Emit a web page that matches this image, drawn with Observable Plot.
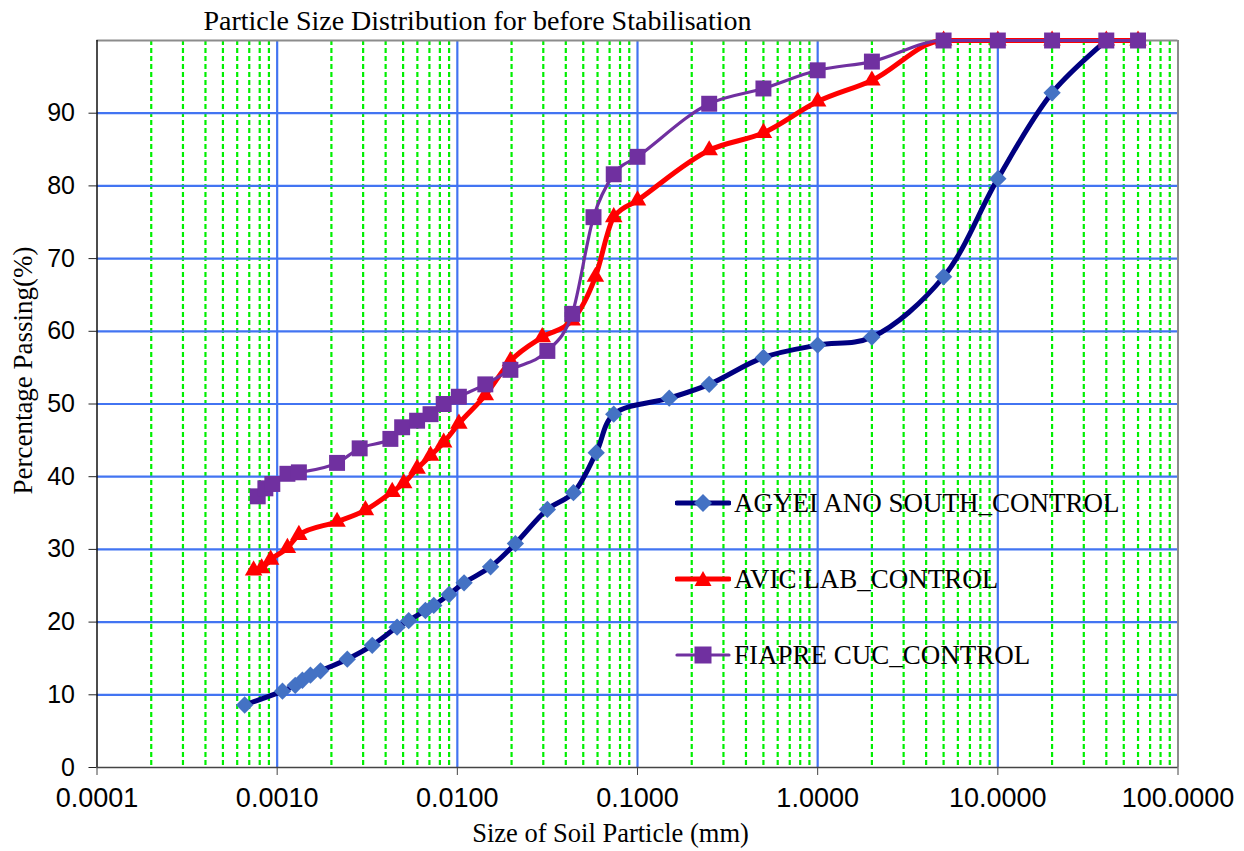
<!DOCTYPE html>
<html>
<head>
<meta charset="utf-8">
<script src="https://cdn.jsdelivr.net/npm/d3@7"></script>
<script src="https://cdn.jsdelivr.net/npm/@observablehq/plot@0.6"></script>
<style>
  html, body { margin: 0; padding: 0; background: #fff; }
  #wrap { position: relative; width: 1244px; height: 851px; }
  #legend { position: absolute; left: 675px; top: 0; font-family: "Liberation Serif", "Times New Roman", serif; font-size: 27px; color: #000; }
  .item { position: absolute; left: 0; display: flex; align-items: center; white-space: nowrap; }
  .item svg { display: block; }
  .item span { margin-left: 3px; }
</style>
</head>
<body>
<div id="wrap"></div>
<script>
// ---- data ----
const seriesNames = ["AGYEI ANO SOUTH_CONTROL", "AVIC LAB_CONTROL", "FIAPRE CUC_CONTROL"];

const agyeiSize = [0.00066, 0.00107, 0.00126, 0.00138, 0.00153, 0.00174, 0.00245, 0.00337, 0.00463, 0.00537, 0.00665, 0.0074, 0.009, 0.0109, 0.0153, 0.021, 0.0316, 0.0441, 0.059, 0.0738, 0.15, 0.25, 0.5, 1, 2, 5, 10, 20, 40];
const agyeiPass = [8.6, 10.5, 11.3, 12.0, 12.7, 13.3, 14.9, 16.8, 19.3, 20.2, 21.6, 22.3, 23.8, 25.4, 27.6, 30.8, 35.5, 37.8, 43.3, 48.6, 50.8, 52.7, 56.4, 58.1, 59.2, 67.5, 81.0, 92.8, 100];

const avicSize = [0.00074, 0.00082, 0.00092, 0.00114, 0.00132, 0.00215, 0.00309, 0.00435, 0.00504, 0.00598, 0.0071, 0.0084, 0.0102, 0.0143, 0.0197, 0.0296, 0.0434, 0.0584, 0.0738, 0.1, 0.25, 0.5, 1, 2, 5, 10, 20, 40, 60];
const avicPass = [27.1, 27.4, 28.6, 30.2, 32.0, 33.8, 35.4, 37.9, 39.1, 41.1, 42.9, 44.7, 47.3, 51.2, 55.9, 59.2, 61.5, 67.5, 75.7, 78.0, 84.9, 87.3, 91.6, 94.5, 100, 100, 100, 100, 100];

const fiapreSize = [0.00078, 0.00086, 0.00094, 0.00114, 0.00132, 0.00215, 0.00287, 0.00425, 0.00494, 0.00598, 0.0071, 0.0084, 0.0102, 0.0143, 0.0197, 0.0316, 0.0434, 0.057, 0.0738, 0.1, 0.25, 0.5, 1, 2, 5, 10, 20, 40, 60];
const fiaprePass = [37.3, 38.4, 39.0, 40.4, 40.6, 41.9, 43.9, 45.2, 46.8, 47.7, 48.6, 50.0, 51.0, 52.7, 54.7, 57.3, 62.4, 75.7, 81.6, 84.0, 91.3, 93.4, 95.9, 97.1, 100, 100, 100, 100, 100];

const xDomain = [0.0001, 100];
const xTicks = [0.0001, 0.001, 0.01, 0.1, 1, 10, 100];
const yTicks = [0, 10, 20, 30, 40, 50, 60, 70, 80, 90];
const yDomain = [0, 100];

const titleText = "Particle Size Distribution for before Stabilisation";
const xLabel = "Size of Soil Particle (mm)";
const yLabel = "Percentage Passing(%)";

// ---- build tables ----
const toRows = (xs, ys) => xs.map((x, i) => ({x, y: ys[i]}));
const agyei = toRows(agyeiSize, agyeiPass);
const avic = toRows(avicSize, avicPass);
const fiapre = toRows(fiapreSize, fiaprePass);

const allLogTicks = d3.scaleLog().domain(xDomain).ticks();
const minorTicks = allLogTicks.filter(v => !xTicks.some(t => Math.abs(t - v) / t < 1e-9));
const majorInner = xTicks.slice(1, -1);
const yGrid = yTicks.slice(1);

const gridBlue = "#4274F2";
const serif = "Liberation Serif, Times New Roman, serif";

const chart = Plot.plot({
  width: 1244,
  height: 851,
  marginLeft: 96.5,
  marginRight: 66.5,
  marginTop: 40,
  marginBottom: 84,
  x: {type: "log", domain: xDomain},
  y: {domain: yDomain},
  style: {fontFamily: "Liberation Sans, Arial, sans-serif", background: "#fff", color: "#000", overflow: "visible"},
  marks: [
    Plot.ruleX(minorTicks, {stroke: "#00F000", strokeWidth: 2.2, strokeDasharray: "5,3"}),
    Plot.ruleX(majorInner, {stroke: gridBlue, strokeWidth: 2.2}),
    Plot.ruleY(yGrid, {stroke: gridBlue, strokeWidth: 2.2}),
    Plot.ruleY([yDomain[1]], {stroke: "#8c8c8c", strokeWidth: 2}),
    Plot.ruleX([xDomain[1]], {stroke: "#8c8c8c", strokeWidth: 2}),
    Plot.axisY(yTicks, {tickSize: 8, tickPadding: 14, fontSize: 25, label: null, tickFormat: d => String(d), stroke: "#222"}),
    Plot.axisX(xTicks, {tickSize: 8, tickPadding: 12, fontSize: 27, label: null, tickFormat: d => d.toFixed(4), stroke: "#444"}),
    Plot.ruleX([xDomain[0]], {stroke: "#111", strokeWidth: 1.5}),
    Plot.ruleY([yDomain[0]], {stroke: "#444", strokeWidth: 1.5}),

    Plot.line(agyei, {x: "x", y: "y", curve: "catmull-rom", stroke: "#000080", strokeWidth: 5}),
    Plot.dot(agyei, {x: "x", y: "y", symbol: "diamond2", r: 7.8, fill: "#4472C4", stroke: "none"}),

    Plot.line(avic, {x: "x", y: "y", curve: "monotone-x", stroke: "#FF0000", strokeWidth: 5}),
    Plot.dot(avic, {x: "x", y: "y", symbol: "triangle", r: 6.5, fill: "#FF0000", stroke: "none"}),

    Plot.line(fiapre, {x: "x", y: "y", curve: "monotone-x", stroke: "#7030A0", strokeWidth: 3.2}),
    Plot.dot(fiapre, {x: "x", y: "y", symbol: "square", r: 9, fill: "#7030A0", stroke: "none"}),

    Plot.text([titleText], {frameAnchor: "top", textAnchor: "middle", dx: -160, dy: -19, fontFamily: serif, fontSize: 28, lineAnchor: "middle"}),
    Plot.text([xLabel], {frameAnchor: "bottom", textAnchor: "middle", dx: -27, dy: 66, fontFamily: serif, fontSize: 26.5, lineAnchor: "middle"}),
    Plot.text([yLabel], {frameAnchor: "left", textAnchor: "middle", rotate: -90, dx: -73.5, dy: -33.5, fontFamily: serif, fontSize: 27, lineAnchor: "middle"})
  ]
});

const wrap = document.getElementById("wrap");
wrap.appendChild(chart);

// ---- legend ----
const legendStyles = [
  {color: "#000080", width: 5, marker: "diamond", mfill: "#4472C4", top: 503},
  {color: "#FF0000", width: 5, marker: "triangle", mfill: "#FF0000", top: 579},
  {color: "#7030A0", width: 3.2, marker: "square", mfill: "#7030A0", top: 655}
];
const legend = document.createElement("div");
legend.id = "legend";
seriesNames.forEach((name, i) => {
  const s = legendStyles[i];
  const item = document.createElement("div");
  item.className = "item";
  item.style.top = (s.top - 17) + "px";
  let shape;
  if (s.marker === "diamond") shape = `<path d="M28,8 L37,17 L28,26 L19,17 Z" fill="${s.mfill}"/>`;
  else if (s.marker === "triangle") shape = `<path d="M28,9 L36.5,24 L19.5,24 Z" fill="${s.mfill}"/>`;
  else shape = `<rect x="19.5" y="8.5" width="17" height="17" fill="${s.mfill}"/>`;
  item.innerHTML = `<svg width="56" height="34"><line x1="2" y1="17" x2="54" y2="17" stroke="${s.color}" stroke-width="${s.width}" stroke-linecap="round"/>${shape}</svg><span>${name}</span>`;
  legend.appendChild(item);
});
wrap.appendChild(legend);
</script>
</body>
</html>
